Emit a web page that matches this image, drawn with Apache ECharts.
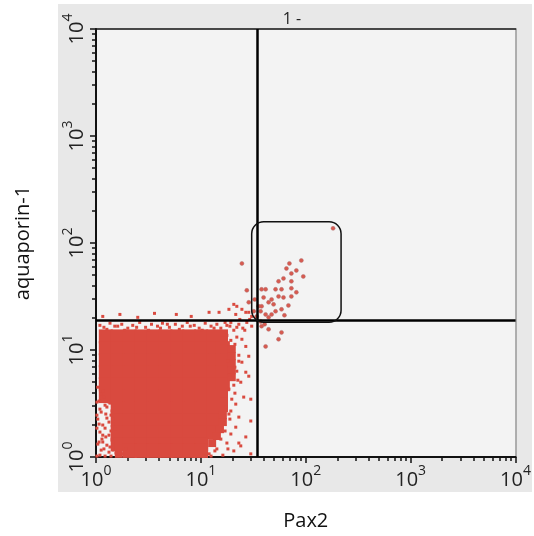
<!DOCTYPE html>
<html>
<head>
<meta charset="utf-8">
<script src="https://cdn.jsdelivr.net/npm/echarts@6/dist/echarts.min.js"></script>
<style>
  html, body { margin: 0; padding: 0; background: #fff; }
  #chart { width: 534px; height: 536px; }
</style>
</head>
<body>
<div id="chart"></div>
<script>
// gate lines and box, in data units (Pax2, aquaporin-1)
const quadX = 34.8
const quadY = 18.9
const gateBox = [30.5, 18.2, 217, 158] // xMin, yMin, xMax, yMax

// dense negative population: each row = [aquaporin-1, [Pax2 values...]]
const coreRows = [
  [13.4, [1.24, 1.61, 2.10, 2.72, 3.54, 4.59, 5.96, 7.74, 10.05, 13.1]],
  [10.4, [1.24, 1.61, 2.10, 2.72, 3.54, 4.59, 5.96, 7.74, 10.05, 13.1, 16.2]],
  [8.02, [1.24, 1.61, 2.10, 2.72, 3.54, 4.59, 5.96, 7.74, 10.05, 13.1, 16.2]],
  [6.20, [1.24, 1.61, 2.10, 2.72, 3.54, 4.59, 5.96, 7.74, 10.05, 13.1, 16.2]],
  [4.79, [1.24, 1.61, 2.10, 2.72, 3.54, 4.59, 5.96, 7.74, 10.05, 13.1, 16.2]],
  [3.71, [1.24, 1.61, 2.10, 2.72, 3.54, 4.59, 5.96, 7.74, 10.05, 13.1]],
  [2.86, [1.61, 2.10, 2.72, 3.54, 4.59, 5.96, 7.74, 10.05, 13.1]],
  [2.21, [1.61, 2.10, 2.72, 3.54, 4.59, 5.96, 7.74, 10.05, 13.1]],
  [1.71, [1.61, 2.10, 2.72, 3.54, 4.59, 5.96, 7.74, 10.05, 13.1]],
  [1.32, [1.61, 2.10, 2.72, 3.54, 4.59, 5.96, 7.74, 10.05]],
  [1.14, [2.10, 2.72, 3.54, 4.59, 5.96, 7.74, 10.05]]
]

// smaller cells rounding off the population's outline
const edgePoints = [
  [16.6, 14.3], [16.6, 12.3], [19.7, 10.2], [19.7, 8.74], [19.7, 7.52], [19.7, 6.47],
  [19.7, 5.57], [16.6, 3.87], [16.6, 3.33], [16.6, 2.86], [16.2, 2.46], [16.2, 2.12],
  [15.2, 1.82], [14.2, 1.57], [12.8, 1.35], [1.65, 1.07], [1.65, 1.24]
]

// sparse events around the edge of the population
const fringePoints = [
  [1.09, 17.0], [1.19, 16.3], [1.36, 17.8], [1.51, 16.7], [1.76, 17.4], [2.01, 16.0],
  [2.24, 17.0], [2.61, 18.1], [2.97, 16.3], [3.38, 17.4], [3.86, 16.7], [4.30, 17.8],
  [5.01, 16.3], [5.71, 17.4], [6.65, 16.7], [7.41, 18.1], [8.64, 17.0], [9.63, 16.0],
  [11.0, 17.8], [12.5, 16.7], [14.2, 17.4], [15.5, 16.0], [17.0, 18.1], [18.9, 16.7],
  [20.6, 15.3], [23.0, 17.4], [25.1, 16.0], [27.4, 18.1], [30.5, 16.7],
  [1.27, 15.6], [1.61, 16.7], [1.88, 15.3], [2.44, 16.3], [3.17, 15.3], [4.12, 16.0],
  [4.79, 17.4], [6.23, 15.6], [7.92, 16.7], [10.3, 15.3], [13.35, 16.0], [17.7, 17.0],
  [22.0, 16.3], [26.2, 15.3], [29.2, 19.3], [23.5, 19.3], [19.3, 18.1],
  [1.16, 20.6], [1.69, 21.5], [2.50, 20.2], [3.61, 22.0], [5.83, 21.5], [8.09, 20.6],
  [11.97, 22.5], [14.9, 22.5], [18.5, 24.0], [20.6, 26.7], [21.5, 21.5], [24.6, 24.0],
  [26.8, 22.5], [28.6, 22.5], [30.5, 20.6], [22.0, 25.6],
  [17.7, 13.7], [19.3, 12.3], [22.0, 13.2], [24.6, 12.6], [26.8, 10.8], [20.2, 9.73],
  [23.0, 8.93], [28.6, 8.74], [18.1, 7.86], [24.6, 7.69], [21.1, 6.91], [26.8, 6.20],
  [18.9, 5.82], [28.6, 5.69], [22.5, 5.22], [24.0, 5.00], [18.5, 4.31], [21.1, 3.95],
  [25.6, 3.63], [29.9, 3.47], [21.5, 3.12], [17.3, 2.93], [19.3, 2.69], [18.5, 2.52],
  [23.0, 2.36], [29.9, 2.17], [16.6, 2.07], [21.5, 1.90], [19.3, 1.64], [26.8, 1.54],
  [15.5, 1.47], [17.7, 1.35], [24.0, 1.27], [14.2, 1.19], [20.6, 1.14], [29.9, 1.07],
  [16.2, 1.04], [21.1, 11.3], [23.0, 7.86], [22.0, 6.34], [20.6, 4.69], [19.7, 3.47],
  [18.9, 2.26], [17.0, 1.75], [18.1, 1.19], [12.5, 1.02], [23.0, 1.35],
  [1.04, 4.49], [1.12, 3.87], [1.16, 4.12], [1.07, 3.33], [1.19, 3.63], [1.36, 3.19],
  [1.09, 2.80], [1.27, 2.93], [1.24, 2.52], [1.42, 2.69], [1.04, 2.26], [1.45, 2.26],
  [1.16, 1.99], [1.33, 2.12], [1.51, 1.82], [1.09, 1.71], [1.24, 1.54], [1.14, 1.47],
  [1.42, 1.44], [1.04, 1.32], [1.19, 1.19], [1.36, 1.24], [1.55, 1.09], [1.09, 1.04],
  [1.76, 1.07], [1.92, 1.19], [11.97, 1.07], [13.6, 1.14], [10.7, 1.02],
  [1.02, 3.26], [1.22, 3.05], [1.33, 3.26], [1.12, 2.63], [1.39, 2.46], [1.02, 2.46],
  [1.27, 2.31], [1.45, 2.03], [1.07, 2.03], [1.22, 1.86], [1.39, 1.75], [1.02, 1.86],
  [1.16, 1.60], [1.33, 1.60], [1.45, 1.38], [1.07, 1.38], [1.27, 1.29], [1.12, 1.16],
  [1.33, 1.11], [1.45, 1.16], [1.02, 1.02], [1.22, 1.02], [1.39, 1.02], [1.16, 1.38]
]

// diagonal tail running up into the gate
const tailPoints = [
  [24.6, 64.4], [27.4, 36.1], [28.6, 27.9], [34.0, 20.6], [35.5, 25.6], [37.1, 23.0],
  [37.9, 36.9], [37.9, 25.6], [41.4, 36.9], [41.4, 21.5], [44.2, 27.9], [47.2, 29.7],
  [47.2, 21.5], [51.5, 36.9], [51.5, 23.0], [55.0, 43.8], [55.0, 31.7], [58.7, 36.9],
  [58.7, 24.0], [61.3, 46.7], [61.3, 31.0], [65.4, 57.8], [68.3, 26.1], [69.8, 64.4],
  [72.9, 51.9], [72.9, 43.8], [72.9, 37.7], [72.9, 31.7], [81.3, 55.4], [81.3, 34.6],
  [90.7, 68.7], [94.7, 48.7], [182, 137],
  [32.6, 29.7], [39.6, 31.0], [49.3, 26.7], [31.9, 23.0], [44.2, 20.2], [62.6, 21.1],
  [37.1, 18.5], [40.5, 17.4], [37.9, 16.7], [44.2, 15.6], [58.7, 14.6], [55.0, 12.6],
  [41.4, 10.8]
]

const decades = [0, 1, 2, 3]
const minorSteps = [2, 3, 4, 5, 6, 7, 8, 9]

const minorTicks = []
decades.forEach(d => minorSteps.forEach(m => minorTicks.push(d + Math.log10(m))))

const corePoints = []
coreRows.forEach(r => r[1].forEach(x => corePoints.push([x, r[0]])))

const red = '#d94a3f'
const labelFont = 'Open Sans'

const chart = echarts.init(document.getElementById('chart'), null, { renderer: 'canvas' })

function powLabel(v) {
  return '{b|10}{s|' + Math.round(Math.log10(v)) + '}'
}
const labelRich = {
  b: { fontSize: 20, fontFamily: labelFont, color: '#222', lineHeight: 26, verticalAlign: 'bottom' },
  s: { fontSize: 14, fontFamily: labelFont, color: '#222', lineHeight: 26, verticalAlign: 'top', padding: [0, 0, 9, 0] }
}

const option = {
  animation: false,
  backgroundColor: '#fff',
  title: {
    text: '1 -',
    left: 287,
    top: 6,
    textAlign: 'center',
    textStyle: { fontSize: 16, fontWeight: 'normal', color: '#222', fontFamily: labelFont }
  },
  graphic: [
    { type: 'rect', left: 58, top: 4, shape: { width: 474, height: 488 }, style: { fill: '#e8e8e8' }, z: -10 }
  ],
  grid: {
    left: 96, right: 15, top: 29, bottom: 78,
    show: true, backgroundColor: '#f3f3f3', borderWidth: 0
  },
  xAxis: [
    {
      type: 'log', logBase: 10, min: 1, max: 10000,
      position: 'bottom',
      name: 'Pax2', nameLocation: 'middle', nameGap: 54,
      nameTextStyle: { fontSize: 20, fontFamily: labelFont, color: '#111' },
      axisLine: { lineStyle: { color: '#111', width: 2 } },
      axisTick: { length: 6, lineStyle: { color: '#111', width: 1.5 } },
      axisLabel: { margin: 7, formatter: powLabel, rich: labelRich },
      splitLine: { show: false }
    },
    {
      type: 'value', min: 0, max: 4, position: 'bottom',
      axisLine: { show: false },
      axisTick: { show: true, customValues: minorTicks, length: 4, lineStyle: { color: '#111', width: 1.5 } },
      axisLabel: { show: false },
      splitLine: { show: false }
    },
    {
      type: 'value', min: 0, max: 4, position: 'top',
      axisLine: { lineStyle: { color: '#111', width: 1.5 } },
      axisTick: { show: false }, axisLabel: { show: false }, splitLine: { show: false }
    }
  ],
  yAxis: [
    {
      type: 'log', logBase: 10, min: 1, max: 10000,
      position: 'left',
      name: 'aquaporin-1', nameLocation: 'middle', nameGap: 63,
      nameTextStyle: { fontSize: 20, fontFamily: labelFont, color: '#111' },
      axisLine: { lineStyle: { color: '#111', width: 2 } },
      axisTick: { length: 6, lineStyle: { color: '#111', width: 1.5 } },
      axisLabel: { margin: 9, rotate: 90, formatter: powLabel, rich: labelRich },
      splitLine: { show: false }
    },
    {
      type: 'value', min: 0, max: 4, position: 'left',
      axisLine: { show: false },
      axisTick: { show: true, customValues: minorTicks, length: 4, lineStyle: { color: '#111', width: 1.5 } },
      axisLabel: { show: false },
      splitLine: { show: false }
    },
    {
      type: 'value', min: 0, max: 4, position: 'right',
      axisLine: { lineStyle: { color: '#999', width: 1.5 } },
      axisTick: { show: false }, axisLabel: { show: false }, splitLine: { show: false }
    }
  ],
  series: [
    {
      name: 'core', type: 'scatter', symbol: 'rect', symbolSize: 14,
      itemStyle: { color: red, opacity: 1 },
      silent: true,
      data: corePoints
    },
    {
      name: 'edge', type: 'scatter', symbol: 'rect', symbolSize: 8,
      itemStyle: { color: red, opacity: 1 },
      silent: true,
      data: edgePoints
    },
    {
      name: 'fringe', type: 'scatter', symbol: 'rect', symbolSize: 3,
      itemStyle: { color: red, opacity: 1 },
      silent: true,
      data: fringePoints
    },
    {
      name: 'tail', type: 'scatter', symbol: 'circle', symbolSize: 4,
      itemStyle: { color: '#d85a4f', opacity: 1, borderColor: '#b07070', borderWidth: 0.5 },
      silent: true,
      data: tailPoints,
      markLine: {
        silent: true,
        symbol: ['none', 'none'],
        label: { show: false },
        lineStyle: { color: '#000', width: 2.5, type: 'solid' },
        data: [{ xAxis: quadX }, { yAxis: quadY }]
      }
    },
    {
      name: 'gate', type: 'custom', silent: true, z: 5,
      data: [gateBox],
      renderItem: function (params, api) {
        const p1 = api.coord([api.value(0), api.value(3)])
        const p2 = api.coord([api.value(2), api.value(1)])
        return {
          type: 'rect',
          shape: { x: p1[0], y: p1[1], width: p2[0] - p1[0], height: p2[1] - p1[1], r: 12 },
          style: { fill: 'none', stroke: '#111', lineWidth: 1.5 }
        }
      }
    }
  ]
}

chart.setOption(option)
window.addEventListener('resize', chart.resize)
</script>
</body>
</html>
